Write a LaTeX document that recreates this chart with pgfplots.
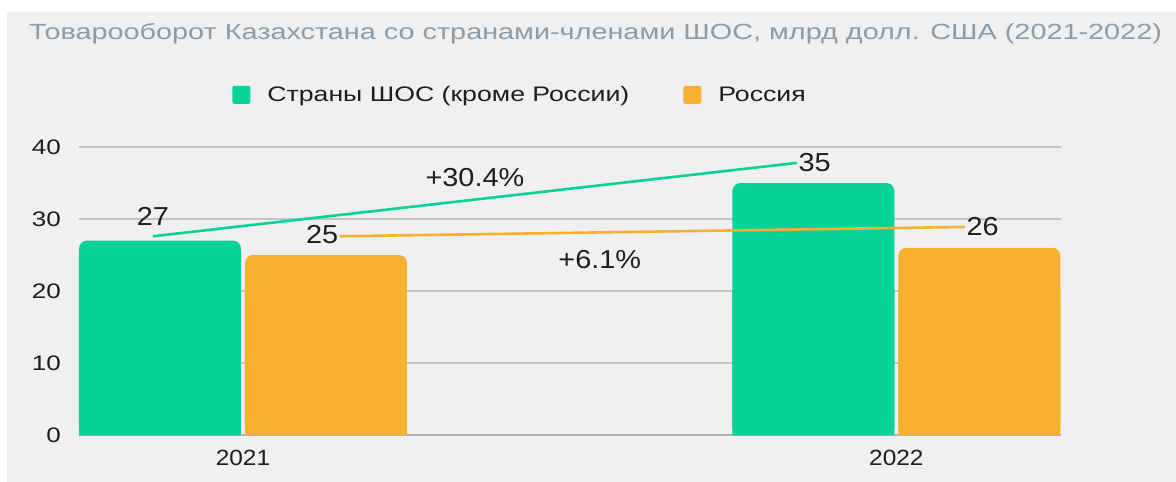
\documentclass[border=0pt]{standalone}
\usepackage{fontspec}
\setmainfont{Liberation Sans}
\newfontfamily\titlefont[FakeStretch=1.31]{Liberation Sans}
\newfontfamily\legfont[FakeStretch=1.27]{Liberation Sans}
\newfontfamily\tickfont[FakeStretch=1.24]{Liberation Sans}
\newfontfamily\valfont[FakeStretch=1.11]{Liberation Sans}
\usepackage{pgfplots}
\usepackage{pgfplotstable}
\pgfplotsset{compat=1.18}
\definecolor{bg}{HTML}{F0F0F0}
\definecolor{grn}{HTML}{05D398}
\definecolor{org}{HTML}{F9B031}
\definecolor{ttl}{HTML}{8C9CA8}
\definecolor{grd}{HTML}{C4C4C4}
\definecolor{axc}{HTML}{B0B0B0}
\definecolor{txt}{HTML}{1E1E1E}
\pgfplotstableread{
x sco rus
0 27 25
1 35 26
}\datatab
\begin{document}
\begin{tikzpicture}[x=1pt,y=1pt]
\fill[white] (0,0) rectangle (1176,-482);
\fill[bg] (7,-12) rectangle (1176,-482);
\node[anchor=base west, text=ttl, font=\titlefont\fontsize{22}{26}\selectfont, inner sep=0pt] at (29,-39) {Товарооборот Казахстана со странами-членами ШОС, млрд долл. США (2021-2022)};
\begin{axis}[
  at={(79pt,-435pt)}, anchor=south west,
  scale only axis, width=982pt, height=288pt,
  xmin=-0.251, xmax=1.252, ymin=0, ymax=40,
  ybar=4pt, bar width=162pt,
  xtick={0,1}, xticklabels={2021,2022},
  ytick={0,10,20,30,40},
  axis x line*=bottom, axis y line*=left,
  y axis line style={draw=none},
  x axis line style={draw=axc, line width=1.5pt, -},
  major tick length=0pt,
  ymajorgrids, grid style={draw=grd, line width=1.3pt},
  /pgf/number format/assume math mode=true,
  yticklabel style={font=\tickfont\fontsize{21}{24}\selectfont, text=txt, inner xsep=0pt, xshift=-18pt},
  xticklabel style={font=\valfont\fontsize{22}{24}\selectfont, text=txt, inner ysep=0pt, yshift=-15pt},
  legend columns=2,
  legend style={at={(0.156,1.181)}, anchor=west, draw=none, fill=none,
    inner sep=0pt, font=\legfont\fontsize{21}{24}\selectfont, text=txt,
    /tikz/every odd column/.append style={column sep=15pt},
    /tikz/every even column/.append style={column sep=52pt}},
  legend image code/.code={\fill[#1, rounded corners=2pt] (0pt,-9pt) rectangle (18pt,9pt);},
  clip=false,
]
\addplot[fill=grn, draw=none, rounded corners=8pt] table[x=x, y=sco] {\datatab};
\addplot[fill=org, draw=none, rounded corners=8pt] table[x=x, y=rus] {\datatab};
\legend{Страны ШОС (кроме России), Россия}
\addplot[forget plot, sharp plot, no markers, draw=grn, line width=2.6pt] coordinates {(-0.138,27.6) (0.848,37.8)};
\addplot[forget plot, sharp plot, no markers, draw=org, line width=2.6pt] coordinates {(0.148,27.6) (1.105,28.9)};
\node[font=\valfont\fontsize{26}{30}\selectfont, text=txt] at (axis cs:-0.138,30.3) {27};
\node[font=\valfont\fontsize{26}{30}\selectfont, text=txt] at (axis cs:0.121,27.8) {25};
\node[font=\valfont\fontsize{26}{30}\selectfont, text=txt] at (axis cs:0.875,37.8) {35};
\node[font=\valfont\fontsize{26}{30}\selectfont, text=txt] at (axis cs:1.132,29.0) {26};
\node[font=\valfont\fontsize{26}{30}\selectfont, text=txt] at (axis cs:0.355,35.7) {+30.4\%};
\node[font=\valfont\fontsize{26}{30}\selectfont, text=txt] at (axis cs:0.546,24.3) {+6.1\%};
\end{axis}
% lower part of the same bars with square bottom corners
\begin{axis}[
  at={(79pt,-435pt)}, anchor=south west,
  scale only axis, width=982pt, height=144pt,
  xmin=-0.251, xmax=1.252, ymin=0, ymax=20,
  ybar=4pt, bar width=162pt,
  xtick=\empty, ytick=\empty,
  axis x line*=bottom, axis y line=none,
  x axis line style={draw=axc, line width=1.5pt, -},
  clip=true,
]
\addplot[fill=grn, draw=none] table[x=x, y=sco] {\datatab};
\addplot[fill=org, draw=none] table[x=x, y=rus] {\datatab};
\end{axis}
\end{tikzpicture}
\end{document}
